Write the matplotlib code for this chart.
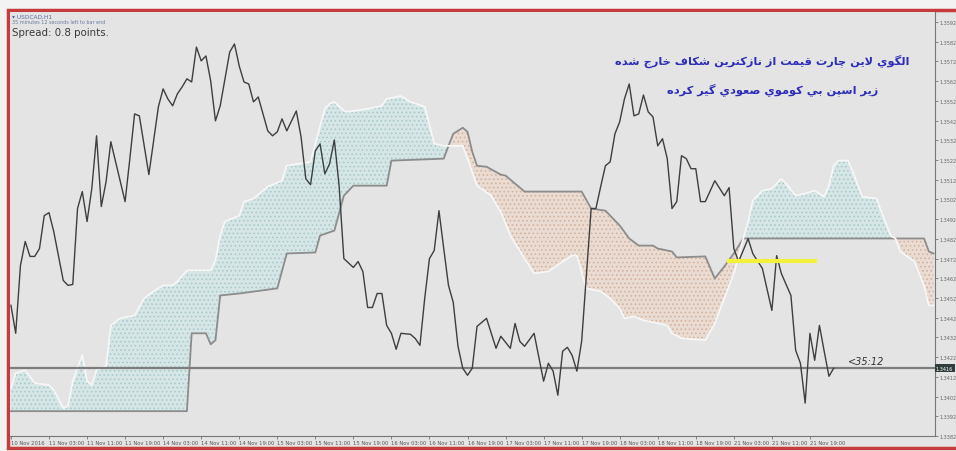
import matplotlib
matplotlib.use('Agg')
import matplotlib.pyplot as plt
from matplotlib.patches import Rectangle
import numpy as np

# bar index (H1 bars from 10 Nov 2016 00:00) and close price of the line chart
price_bar = [0, 1, 2, 3, 4, 5, 6, 7, 8, 9, 11, 12, 13, 14, 15, 16, 17, 18, 19, 20,
             21, 24, 25, 26, 27, 29, 31, 32, 33, 34, 35, 36, 37, 38, 39, 40, 41, 42, 43, 44,
             46, 47, 48, 49, 50, 51, 52, 54, 55, 56, 57, 58, 60, 61, 62, 63, 64, 65, 66, 67,
             68, 69, 70, 72, 73, 74, 75, 76, 77, 78, 79, 80, 81, 82, 84, 85, 86, 87, 88, 89,
             90, 91, 92, 93, 94, 95, 96, 97, 98, 100, 102, 103, 105, 106, 107, 108, 110, 112, 113, 114,
             115, 116, 117, 118, 119, 120, 121, 122, 123, 124, 125, 126, 127, 128, 129, 130, 131, 132, 133, 134,
             135, 136, 137, 138, 139, 140, 141, 142, 143, 144, 145, 146, 148, 150, 151, 152, 153, 155, 156, 158,
             160, 161, 162, 163, 164, 165, 166, 167, 168, 169, 170, 171, 172, 173]
price = [1.34483, 1.34341, 1.34685, 1.34807, 1.34731, 1.34731, 1.34771, 1.34938, 1.34953, 1.34857,
         1.34609, 1.34584, 1.34589, 1.34974, 1.35060, 1.34908, 1.35075, 1.35343, 1.34984, 1.35110,
         1.35313, 1.35009, 1.35227, 1.35454, 1.35444, 1.35146, 1.35490, 1.35581, 1.35530, 1.35495,
         1.35556, 1.35591, 1.35632, 1.35616, 1.35793, 1.35723, 1.35748, 1.35621, 1.35419, 1.35495,
         1.35768, 1.35809, 1.35697, 1.35616, 1.35606, 1.35515, 1.35540, 1.35368, 1.35343, 1.35363,
         1.35429, 1.35368, 1.35469, 1.35338, 1.35125, 1.35095, 1.35267, 1.35302, 1.35150, 1.35201,
         1.35322, 1.35090, 1.34720, 1.34675, 1.34705, 1.34654, 1.34472, 1.34472, 1.34543, 1.34543,
         1.34381, 1.34341, 1.34260, 1.34341, 1.34336, 1.34315, 1.34280, 1.34518, 1.34720, 1.34761,
         1.34963, 1.34771, 1.34584, 1.34498, 1.34275, 1.34164, 1.34128, 1.34164, 1.34376, 1.34417,
         1.34265, 1.34326, 1.34265, 1.34391, 1.34300, 1.34275, 1.34341, 1.34098, 1.34189, 1.34149,
         1.34027, 1.34250, 1.34270, 1.34229, 1.34149, 1.34300, 1.34634, 1.34974, 1.34974, 1.35085,
         1.35191, 1.35211, 1.35353, 1.35414, 1.35530, 1.35606, 1.35444, 1.35454, 1.35550, 1.35464,
         1.35439, 1.35292, 1.35328, 1.35227, 1.34974, 1.35009, 1.35242, 1.35227, 1.35176, 1.35176,
         1.35009, 1.35009, 1.35115, 1.35039, 1.35080, 1.34771, 1.34705, 1.34821, 1.34745, 1.34670,
         1.34457, 1.34735, 1.34644, 1.34589, 1.34533, 1.34255, 1.34189, 1.33987, 1.34341, 1.34204,
         1.34381, 1.34250, 1.34123, 1.34164]

# Ichimoku Senkou Span A (white line)
span_a_bar = [0, 1, 3, 5, 8, 9, 11, 12, 13, 15, 16, 17, 18, 20, 21, 23, 26, 28, 30, 32,
              34, 35, 37, 42, 43, 44, 45, 48, 49, 51, 54, 57, 58, 63, 66, 67, 68, 70, 71, 75,
              78, 79, 82, 84, 87, 89, 91, 92, 95, 96, 97, 98, 101, 103, 105, 108, 110, 113, 116, 118,
              119, 121, 124, 126, 128, 129, 131, 133, 136, 138, 139, 141, 146, 148, 150, 152, 154, 155, 156, 158,
              160, 161, 162, 163, 165, 167, 169, 171, 172, 173, 174, 176, 177, 179, 182, 183, 185, 186, 187, 190,
              192, 193, 194]
span_a = [1.34063, 1.34139, 1.34154, 1.34088, 1.34078, 1.34053, 1.33961, 1.33972, 1.34098, 1.34230,
          1.34098, 1.34078, 1.34154, 1.34174, 1.34381, 1.34417, 1.34432, 1.34518, 1.34554, 1.34584,
          1.34584, 1.34604, 1.34660, 1.34660, 1.34710, 1.34837, 1.34908, 1.34938, 1.35009, 1.35024,
          1.35085, 1.35115, 1.35191, 1.35211, 1.35480, 1.35505, 1.35515, 1.35470, 1.35465, 1.35480,
          1.35495, 1.35530, 1.35545, 1.35515, 1.35490, 1.35303, 1.35292, 1.35292, 1.35292, 1.35227,
          1.35161, 1.35090, 1.35039, 1.34958, 1.34837, 1.34721, 1.34645, 1.34655, 1.34705, 1.34736,
          1.34736, 1.34569, 1.34554, 1.34518, 1.34468, 1.34417, 1.34427, 1.34407, 1.34392, 1.34381,
          1.34341, 1.34316, 1.34306, 1.34392, 1.34518, 1.34645, 1.34822, 1.34908, 1.35014, 1.35065,
          1.35075, 1.35100, 1.35125, 1.35100, 1.35039, 1.35050, 1.35065, 1.35034, 1.35090, 1.35191,
          1.35217, 1.35217, 1.35161, 1.35034, 1.35024, 1.34958, 1.34837, 1.34822, 1.34756, 1.34705,
          1.34584, 1.34483, 1.34483]

# Ichimoku Senkou Span B (grey line)
span_b_bar = [0, 37, 38, 41, 42, 43, 44, 48, 56, 58, 64, 65, 68, 70, 72, 79, 80, 91, 92, 93,
              95, 96, 97, 98, 100, 103, 104, 108, 120, 122, 125, 128, 130, 132, 135, 136, 139, 140, 146, 148,
              150, 152, 154, 186, 192, 193, 194]
span_b = [1.33946, 1.33946, 1.34341, 1.34341, 1.34285, 1.34306, 1.34533, 1.34543, 1.34569, 1.34746,
          1.34751, 1.34837, 1.34862, 1.35039, 1.35090, 1.35090, 1.35217, 1.35227, 1.35292, 1.35353,
          1.35384, 1.35363, 1.35262, 1.35191, 1.35186, 1.35146, 1.35141, 1.35060, 1.35060, 1.34974,
          1.34963, 1.34888, 1.34822, 1.34786, 1.34786, 1.34771, 1.34756, 1.34726, 1.34731, 1.34619,
          1.34680, 1.34746, 1.34822, 1.34822, 1.34822, 1.34756, 1.34746]

# cloud segments between twists: (start bar, end bar, bullish?)
cloud_parts = [(0, 92, True), (92, 154, False), (154, 186, True), (186, 194, False)]

current_price = 1.34164
yellow_level = 1.34706
yellow_from, yellow_to = 151, 169

time_ticks = list(range(0, 169, 8))
time_labels = ['10 Nov 2016', '11 Nov 03:00', '11 Nov 11:00', '11 Nov 19:00', '14 Nov 03:00',
               '14 Nov 11:00', '14 Nov 19:00', '15 Nov 03:00', '15 Nov 11:00', '15 Nov 19:00',
               '16 Nov 03:00', '16 Nov 11:00', '16 Nov 19:00', '17 Nov 03:00', '17 Nov 11:00',
               '17 Nov 19:00', '18 Nov 03:00', '18 Nov 11:00', '18 Nov 19:00', '21 Nov 03:00',
               '21 Nov 11:00', '21 Nov 19:00']
price_ticks = [1.3382 + 0.001 * i for i in range(22)]

note_line1 = 'الگوي لاين چارت قيمت از نازكترين شكاف خارج شده'
note_line2 = 'زير اسپن بي كوموي صعودي گير كرده'

# simple Arabic-script shaping (matplotlib has no shaping / bidi)
FORMS = {
    'ا': ('\uFE8D', '\uFE8E', None, None), 'ب': ('\uFE8F', '\uFE90', '\uFE91', '\uFE92'),
    'ت': ('\uFE95', '\uFE96', '\uFE97', '\uFE98'), 'ج': ('\uFE9D', '\uFE9E', '\uFE9F', '\uFEA0'),
    'خ': ('\uFEA5', '\uFEA6', '\uFEA7', '\uFEA8'), 'د': ('\uFEA9', '\uFEAA', None, None),
    'ر': ('\uFEAD', '\uFEAE', None, None), 'ز': ('\uFEAF', '\uFEB0', None, None),
    'س': ('\uFEB1', '\uFEB2', '\uFEB3', '\uFEB4'), 'ش': ('\uFEB5', '\uFEB6', '\uFEB7', '\uFEB8'),
    'ص': ('\uFEB9', '\uFEBA', '\uFEBB', '\uFEBC'), 'ع': ('\uFEC9', '\uFECA', '\uFECB', '\uFECC'),
    'ف': ('\uFED1', '\uFED2', '\uFED3', '\uFED4'), 'ق': ('\uFED5', '\uFED6', '\uFED7', '\uFED8'),
    'ك': ('\uFED9', '\uFEDA', '\uFEDB', '\uFEDC'), 'ل': ('\uFEDD', '\uFEDE', '\uFEDF', '\uFEE0'),
    'م': ('\uFEE1', '\uFEE2', '\uFEE3', '\uFEE4'), 'ن': ('\uFEE5', '\uFEE6', '\uFEE7', '\uFEE8'),
    'ه': ('\uFEE9', '\uFEEA', '\uFEEB', '\uFEEC'), 'و': ('\uFEED', '\uFEEE', None, None),
    'ي': ('\uFEF1', '\uFEF2', '\uFEF3', '\uFEF4'), 'پ': ('\uFB56', '\uFB57', '\uFB58', '\uFB59'),
    'چ': ('\uFB7A', '\uFB7B', '\uFB7C', '\uFB7D'), 'گ': ('\uFB92', '\uFB93', '\uFB94', '\uFB95'),
}


def shape(text):
    out = []
    i = 0
    while i < len(text):
        c = text[i]
        prev = text[i - 1] if i > 0 else ''
        joins_prev = prev in FORMS and FORMS[prev][2] is not None
        if c == 'ل' and i + 1 < len(text) and text[i + 1] == 'ا':
            out.append('\uFEFC' if joins_prev else '\uFEFB')
            i += 2
            continue
        if c not in FORMS:
            out.append(c)
            i += 1
            continue
        nxt = text[i + 1] if i + 1 < len(text) else ''
        joins_next = nxt in FORMS and FORMS[c][2] is not None
        iso, fin, ini, med = FORMS[c]
        if joins_prev and joins_next:
            out.append(med)
        elif joins_prev:
            out.append(fin)
        elif joins_next:
            out.append(ini)
        else:
            out.append(iso)
        i += 1
    return ''.join(reversed(out))


W, H = 956, 452
plt.rcParams['hatch.linewidth'] = 0.7
fig = plt.figure(figsize=(W / 100, H / 100), dpi=100)
fig.patch.set_facecolor('#f3f3f3')
fig.patches.append(Rectangle((8 / W, 3 / H), 1.0, (449 - 11) / H, transform=fig.transFigure,
                             facecolor='#e4e4e4', edgecolor='#c63c3c', linewidth=2.5, zorder=-10))

ax = fig.add_axes([10 / W, 1 - 437 / H, 925 / W, 424 / H])
ax.set_facecolor('#e4e4e4')

a_bar = np.array(span_a_bar)
b_bar = np.array(span_b_bar)
a_val = np.array(span_a)
b_val = np.array(span_b)
for start, end, bull in cloud_parts:
    ma = (a_bar >= start) & (a_bar <= end)
    mb = (b_bar >= start) & (b_bar <= end)
    xs = np.concatenate([a_bar[ma], b_bar[mb][::-1]])
    ys = np.concatenate([a_val[ma], b_val[mb][::-1]])
    if bull:
        ax.fill(xs, ys, facecolor='#d6e6e6', edgecolor='#a9caca', hatch='....', linewidth=0, zorder=1)
    else:
        ax.fill(xs, ys, facecolor='#eadcd3', edgecolor='#d4b39e', hatch='....', linewidth=0, zorder=1)

ax.plot(span_b_bar, span_b, color='#8c8c8c', lw=1.3, zorder=2)
ax.plot(span_a_bar, span_a, color='#f7f7f7', lw=1.3, zorder=2)
ax.plot(price_bar, price, color='#3c3f3f', lw=1.0, zorder=4)
ax.axhline(current_price, color='#7d7d7d', lw=1.6, zorder=3)
ax.plot([yellow_from, yellow_to], [yellow_level, yellow_level], color='#f2f23a', lw=3, zorder=5)

ax.text(176, current_price + 0.00012, '<35:12', fontsize=7, style='italic', color='#333333',
        ha='left', va='bottom', zorder=6)
ax.text(1.001, current_price, '%.4f' % current_price, transform=ax.get_yaxis_transform(),
        fontsize=3.6, color='white', ha='left', va='center',
        bbox=dict(boxstyle='square,pad=0.25', facecolor='#2f3d3d', edgecolor='none'))

ax.set_xlim(-0.2, 194.3)
ax.set_ylim(1.33825, 1.35971)

ax.set_xticks(time_ticks)
ax.set_xticklabels(time_labels, fontsize=3.8, color='#555555', ha='left')
ax.set_yticks(price_ticks)
ax.set_yticklabels(['%.4f' % v for v in price_ticks], fontsize=3.5, color='#666666')
ax.yaxis.tick_right()
ax.tick_params(axis='both', length=2, width=0.6, color='#777777', pad=1)
for side in ['left', 'top']:
    ax.spines[side].set_visible(False)
for side in ['right', 'bottom']:
    ax.spines[side].set_color('#777777')
    ax.spines[side].set_linewidth(0.8)

fig.text(12 / W, 1 - 17 / H, '\u25be USDCAD,H1', fontsize=4.2, color='#5a6aa0', va='center')
fig.text(12 / W, 1 - 23 / H, '35 minutes 12 seconds left to bar end', fontsize=3.5, color='#6a7aa0',
         va='center')
fig.text(12 / W, 1 - 33 / H, 'Spread: 0.8 points.', fontsize=7.4, color='#3a3a3a', va='center')

fig.text(762 / W, 1 - 61 / H, shape(note_line1), fontsize=8.2, color='#2d2db8', ha='center',
         va='center', family=['DejaVu Sans'], fontweight='bold')
fig.text(773 / W, 1 - 90 / H, shape(note_line2), fontsize=8.2, color='#2d2db8', ha='center',
         va='center', family=['DejaVu Sans'], fontweight='bold')

fig.savefig('out.png', dpi=100, facecolor=fig.get_facecolor())
